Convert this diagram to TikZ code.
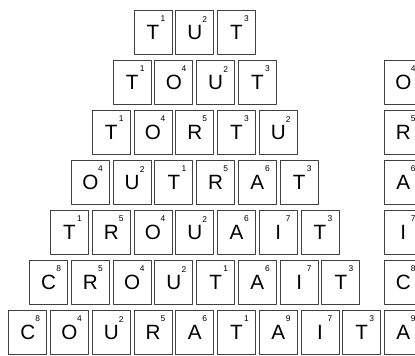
\documentclass[tikz,border=0pt]{standalone}
\usepackage{fontspec}
\setmainfont{Liberation Sans}
\begin{document}
\begin{tikzpicture}[x=0.75pt, y=-0.75pt, declare function={w=41.75; h=50;}, line join=round,
		tile/.style={draw=black!75, line width=0.75pt, minimum width=28.5pt, minimum height=33.4pt, inner sep=0pt, font=\fontsize{15.5}{15.5}\selectfont},
		num/.style={inner sep=0pt, font=\fontsize{6.3}{6.3}\selectfont}]
				\useasboundingbox (0,0) rectangle (415,356);
				\clip (0,0) rectangle (415,356);
				\foreach \r/\word in {1/{T/1,U/2,T/3}, 2/{T/1,O/4,U/2,T/3}, 3/{T/1,O/4,R/5,T/3,U/2},
					4/{O/4,U/2,T/1,R/5,A/6,T/3}, 5/{T/1,R/5,O/4,U/2,A/6,I/7,T/3},
					6/{C/8,R/5,O/4,U/2,T/1,A/6,I/7,T/3}, 7/{C/8,O/4,U/2,R/5,A/6,T/1,A/9,I/7,T/3}} {
					\foreach \L/\N [count=\i] in \word {
						\node[tile] (t\r-\i) at ({153-(\r-1)*w/2+(\i-1)*w}, {32.6+(\r-1)*h}) {\L};
						\node[num] (n\r-\i) at ([shift={(10,-13.5)}]t\r-\i.center) {\N};
					}
				}
				\foreach \L/\N [count=\k from 2] in {O/4,R/5,A/6,I/7,C/8,A/9} {
					\node[tile] (s\k) at (403.3, {32.6+(\k-1)*h}) {\L};
					\node[num] (m\k) at ([shift={(10,-13.5)}]s\k.center) {\N};
				}
		\end{tikzpicture}
\end{document}
